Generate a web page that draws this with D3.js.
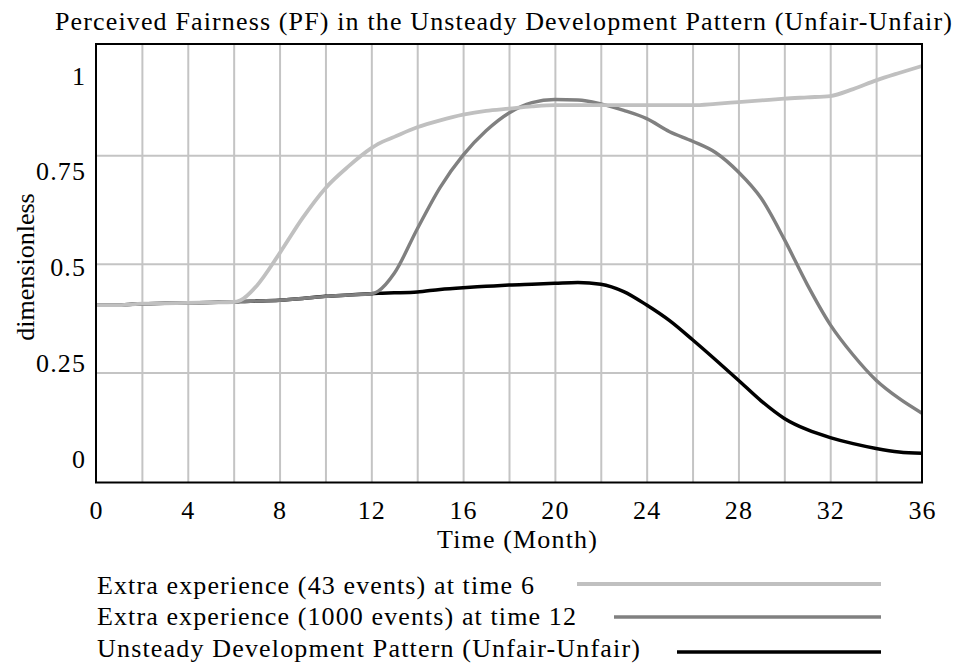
<!DOCTYPE html>
<html>
<head>
<meta charset="utf-8">
<script src="https://cdn.jsdelivr.net/npm/d3@7.9.0/dist/d3.min.js"></script>
<style>
  body { margin: 0; background: #fff; }
  svg { display: block; font-family: "Liberation Serif", "Times New Roman", serif; }
  text { letter-spacing: 1.1px; }
</style>
</head>
<body>
<svg width="961" height="666"></svg>
<script>
// time axis (months) and the three runs
const time = [0, 1, 2, 3, 4, 5, 6, 6.3, 7, 8, 9, 10, 11, 12, 12.3, 13, 14, 15, 16, 17, 18, 19, 20,
  21, 22, 23, 24, 25, 26, 27, 28, 29, 30, 31, 32, 33, 34, 35, 36];

const extra43 = [0.405, 0.405, 0.408, 0.409, 0.41, 0.411, 0.412, 0.416, 0.449, 0.524, 0.605, 0.674,
  0.724, 0.766, 0.776, 0.792, 0.814, 0.83, 0.843, 0.852, 0.857, 0.862, 0.865, 0.865, 0.865, 0.865,
  0.865, 0.865, 0.865, 0.868, 0.872, 0.876, 0.88, 0.883, 0.886, 0.902, 0.922, 0.939, 0.955];

const extra1000 = [0.405, 0.405, 0.408, 0.409, 0.41, 0.411, 0.412, 0.413, 0.414, 0.416, 0.42, 0.425,
  0.428, 0.431, 0.437, 0.478, 0.58, 0.676, 0.75, 0.806, 0.847, 0.871, 0.878, 0.877, 0.868, 0.853,
  0.834, 0.804, 0.782, 0.756, 0.711, 0.65, 0.556, 0.452, 0.36, 0.29, 0.232, 0.19, 0.156];

const unsteady = [0.405, 0.405, 0.408, 0.409, 0.41, 0.411, 0.412, 0.413, 0.414, 0.416, 0.42, 0.425,
  0.428, 0.431, 0.432, 0.433, 0.435, 0.441, 0.445, 0.448, 0.451, 0.453, 0.455, 0.457, 0.453, 0.436,
  0.405, 0.369, 0.325, 0.279, 0.232, 0.184, 0.144, 0.118, 0.1, 0.086, 0.075, 0.067, 0.064];

const seriesNames = [
  'Extra experience (43 events) at time 6',
  'Extra experience (1000 events) at time 12',
  'Unsteady Development Pattern (Unfair-Unfair)'
];
const xTicks = [0, 4, 8, 12, 16, 20, 24, 28, 32, 36];
const xGrid = d3.range(2, 36, 2);
const yTicks = [0, 0.25, 0.5, 0.75, 1];
const yGrid = [0.25, 0.5, 0.75];

const svg = d3.select('svg');
const plotLeft = 96, plotRight = 922, plotTop = 44, plotBottom = 482.5;

let x = d3.scaleLinear().domain([0, 36]).range([plotLeft, plotRight]);
let y = d3.scaleLinear().domain([0, 1]).range([481, 46.5]);
// Vensim spreads the value labels evenly down the frame
let yLabel = d3.scaleLinear().domain([0, 1]).range([458, 75]);

// title
svg.append('text')
  .attr('x', 55).attr('y', 30)
  .attr('font-size', 26)
  .attr('textLength', 898).attr('lengthAdjust', 'spacing')
  .text('Perceived Fairness (PF) in the Unsteady Development Pattern (Unfair-Unfair)');

// grid
svg.append('g')
  .attr('transform', `translate(0,${plotBottom})`)
  .call(d3.axisBottom(x).tickValues(xGrid).tickSize(-(plotBottom - plotTop)).tickFormat(''))
  .call(g => g.select('.domain').remove())
  .call(g => g.selectAll('line').attr('stroke', '#c4c4c4').attr('stroke-width', 2));

svg.append('g')
  .attr('transform', `translate(${plotLeft},0)`)
  .call(d3.axisLeft(y).tickValues(yGrid).tickSize(-(plotRight - plotLeft)).tickFormat(''))
  .call(g => g.select('.domain').remove())
  .call(g => g.selectAll('line').attr('stroke', '#c4c4c4').attr('stroke-width', 2));

// lines: black first, light gray on top
let rows = time.map((t, i) => ({ t, a: extra43[i], b: extra1000[i], c: unsteady[i] }));
const lineStyles = [
  { key: 'a', color: '#c0c0c0', width: 3.8 },
  { key: 'b', color: '#808080', width: 3.4 },
  { key: 'c', color: '#000000', width: 3.5 }
];

[2, 1, 0].forEach(idx => {
  let s = lineStyles[idx];
  let line = d3.line()
    .x(d => x(d.t))
    .y(d => y(d[s.key]))
    .curve(d3.curveMonotoneX);
  svg.append('path')
    .datum(rows)
    .attr('d', line)
    .attr('fill', 'none')
    .attr('stroke', s.color)
    .attr('stroke-width', s.width)
    .attr('stroke-linejoin', 'round');
});

// frame
svg.append('rect')
  .attr('x', plotLeft).attr('y', plotTop)
  .attr('width', plotRight - plotLeft).attr('height', plotBottom - plotTop)
  .attr('fill', 'none').attr('stroke', '#000').attr('stroke-width', 2);

// axis labels
svg.append('g')
  .attr('transform', `translate(0,${plotBottom})`)
  .call(d3.axisBottom(x).tickValues(xTicks).tickSize(0).tickFormat(d3.format('d')))
  .attr('font-family', null).attr('font-size', 26)
  .call(g => g.select('.domain').remove())
  .call(g => g.selectAll('text')
    .attr('y', 36).attr('dy', 0).attr('fill', '#000'));

svg.append('g')
  .attr('transform', 'translate(86,0)')
  .call(d3.axisLeft(yLabel).tickValues(yTicks).tickSize(0).tickFormat(d => String(d)))
  .attr('font-family', null).attr('font-size', 26)
  .call(g => g.select('.domain').remove())
  .call(g => g.selectAll('text')
    .attr('x', 0).attr('dy', '0.35em').attr('fill', '#000'));

svg.append('text')
  .attr('x', 437).attr('y', 548)
  .attr('font-size', 26)
  .attr('textLength', 161).attr('lengthAdjust', 'spacing')
  .text('Time (Month)');

svg.append('text')
  .attr('transform', 'translate(34,267) rotate(-90)')
  .attr('text-anchor', 'middle')
  .attr('font-size', 26)
  .style('letter-spacing', '0px')
  .text('dimensionless');

// legend
const legendBase = [594, 625, 657];
const legendLineY = [584, 617, 652];
const legendTextW = [438, 480, 544];
const legendLineX = [577, 614, 677];

seriesNames.forEach((name, idx) => {
  svg.append('text')
    .attr('x', 97).attr('y', legendBase[idx])
    .attr('font-size', 26)
    .attr('textLength', legendTextW[idx]).attr('lengthAdjust', 'spacing')
    .text(name);
  svg.append('line')
    .attr('x1', legendLineX[idx]).attr('x2', 881)
    .attr('y1', legendLineY[idx]).attr('y2', legendLineY[idx])
    .attr('stroke', lineStyles[idx].color)
    .attr('stroke-width', lineStyles[idx].width);
});
</script>
</body>
</html>
